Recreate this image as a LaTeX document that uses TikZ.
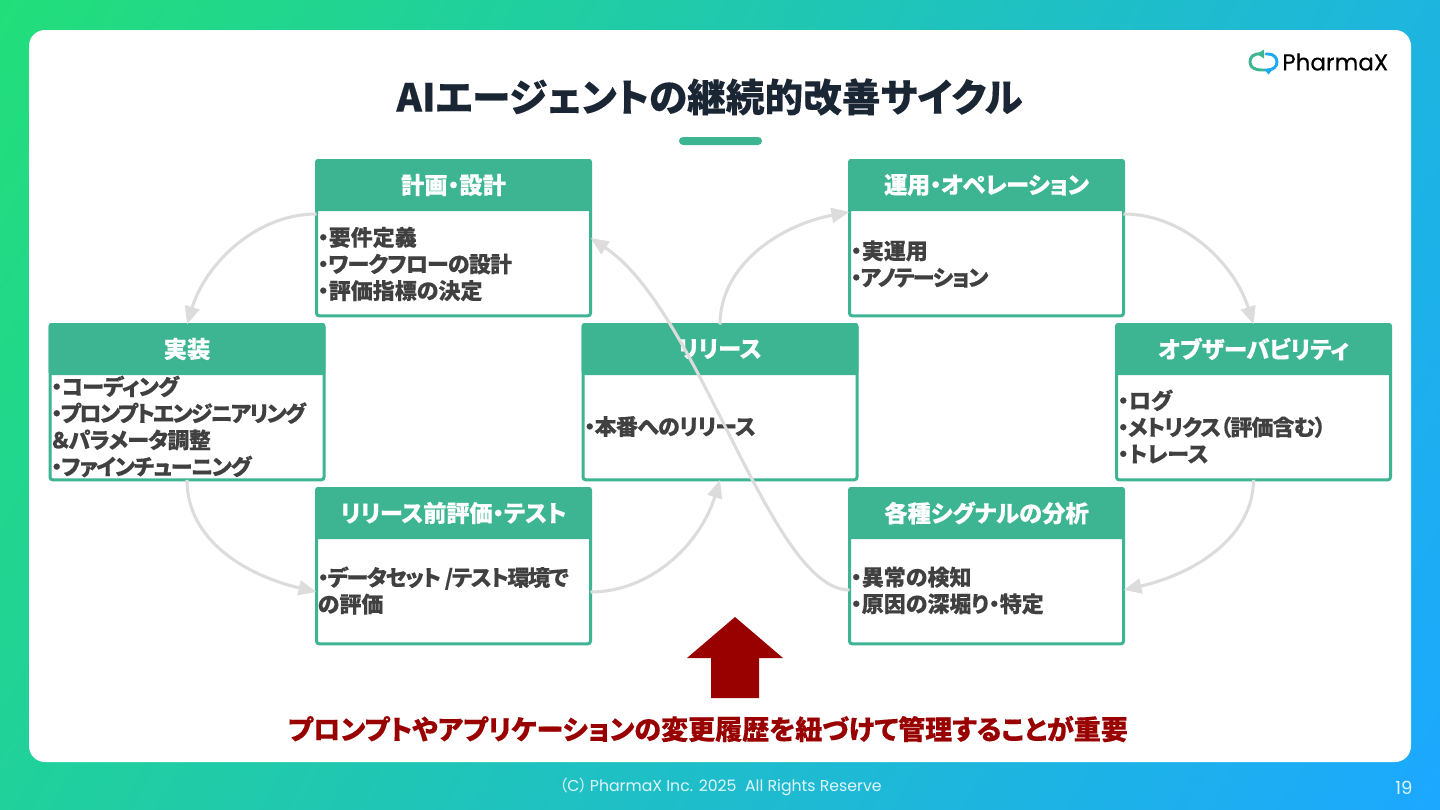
\documentclass[tikz,border=0pt]{standalone}
\usepackage{fontspec}
\setmainfont{Noto Sans CJK JP}[RawFeature=+palt,BoldFeatures={FakeBold=0.25}]
\newfontfamily\popp{Poppins}[FakeBold=0.35]
\newfontfamily\poppr{Poppins}
\usetikzlibrary{arrows.meta,calc}
\definecolor{teal1}{HTML}{3DB592}
\definecolor{grayln}{HTML}{DCDCDC}
\definecolor{ink}{HTML}{404040}
\definecolor{darkred}{HTML}{990000}
\definecolor{bgA}{HTML}{22DE7A}
\definecolor{bgB}{HTML}{1CA8FF}
\tikzset{
  cardbox/.style={draw=teal1,line width=2.25pt,fill=white,rounded corners=2pt,minimum width=205.5pt,minimum height=116.5pt,inner sep=0pt,outer sep=0pt},
  cardhead/.style={fill=teal1,rounded corners=2pt,minimum width=207.5pt,minimum height=39pt,inner sep=0pt,outer sep=0pt,text=white,font=\fontsize{17.5}{20}\selectfont\bfseries},
  cardtext/.style={anchor=west,align=left,inner sep=0pt,text=ink,font=\fontsize{16.5}{20}\selectfont\bfseries},
  flow/.style={draw=grayln,line width=2.3pt,-{Triangle[length=13.5pt,width=11pt,fill=grayln]}},
}
\newcommand{\sq}[2]{{\addfontfeature{LetterSpace=#1}#2}}
\newcommand{\card}[6]{% name, center x, top y, title, body, text dy
  \node[cardbox,anchor=north] (#1) at (#2,#3+1.5) {};
  \node[cardhead,anchor=north] (#1h) at (#2,#3) {#4};
  \coordinate (#1in) at (#2-136,#3+#6);
  \node[cardtext] (#1t) at (#1in) {#5};
}
\begin{document}
\begin{tikzpicture}[x=0.75pt,y=-0.75pt]
\useasboundingbox (0,0) rectangle (1440,810);
\begin{scope}
  \clip (0,0) rectangle (1440,810);
  \shade[bottom color=bgA,top color=bgB,shading angle=-120] (720-826,405-826) rectangle (720+826,405+826);
\end{scope}
\fill[white,rounded corners=12pt] (29,30) rectangle (1411,762);

% logo
\draw[teal1,line width=2.2pt,line cap=round] (1262,54) .. controls (1252,53) and (1250,58) .. (1250,62) .. controls (1250,67) and (1254,70) .. (1262,70) -- (1266,70);
\fill[teal1] (1257,54) -- (1264,49.5) -- (1264,58.5) -- cycle;
\draw[bgB!90!teal1,line width=2.2pt,line cap=round] (1266,54) -- (1268,54) .. controls (1274,54) and (1277,58) .. (1277,62) .. controls (1277,67) and (1273,70) .. (1267,70);
\fill[bgB!90!teal1] (1264,69) -- (1273,69) -- (1268.5,74.5) -- cycle;
\node[anchor=west,inner sep=0pt,font=\popp\fontsize{17.3}{20}\selectfont,text=black] (logo) at (1282,62) {PharmaX};

\node[inner sep=0pt,text={rgb,255:red,27;green,38;blue,52},font=\fontsize{29}{32}\selectfont\bfseries] (title) at (709.5,97) {AIエージェントの継続的改善サイクル};
\fill[teal1,rounded corners=3pt] (679,137) rectangle (762,145);

\card{plan}{453.5}{159}{計画・設計}{・要件定義\\\sq{-3.5}{・ワークフローの設計}\\・評価指標の決定}{105}
\card{ops}{986.5}{159}{\sq{-2}{運用・オペレーション}}{・実運用\\\sq{-6}{・アノテーション}}{105}
\card{impl}{187}{323}{実装}{\sq{-3}{・コーディング}\\\sq{-7.7}{・プロンプトエンジニアリング}\\\sq{-3}{＆パラメータ調整}\\\sq{-5}{・ファインチューニング}}{103.5}
\card{rele}{720}{323}{リリース}{\sq{-3}{・本番へのリリース}}{103.5}
\card{obs}{1253.5}{323}{\sq{-1}{オブザーバビリティ}}{・ログ\\\sq{-4}{・メトリクス（評価含む）}\\・トレース}{103.5}
\card{test}{453.5}{487}{\sq{-1}{リリース前評価・テスト}}{\sq{-6}{・データセット /テスト環境で}\\の評価}{103.5}
\card{sig}{986.5}{487}{各種シグナルの分析}{・異常の検知\\・原因の深堀り・特定}{103.5}

\draw[flow] (plan.west |- 0,214) .. controls (255,214) and (205,265) .. (impl.north);
\draw[flow] (impl.south) .. controls (187,540) and (245,575) .. (test.west |- 0,592);
\draw[flow] (test.east |- 0,592) .. controls (650,592) and (700,545) .. (rele.south);
\draw[flow] (rele.north) .. controls (720,265) and (780,225) .. (ops.north west |- 0,212);
\draw[flow] (ops.north east |- 0,214) .. controls (1185,214) and (1235,265) .. (obs.north);
\draw[flow] (obs.south) .. controls (1253,540) and (1190,575) .. (sig.east |- 0,590);
\draw[flow] (sig.west |- 0,590) .. controls (770,590) and (700,310) .. (plan.north east |- 0,238);

% big arrow
\fill[darkred] (735,617) -- (783,658) -- (759,658) -- (759,698) -- (711,698) -- (711,658) -- (687,658) -- cycle;
\node[inner sep=0pt,text=darkred,font=\fontsize{20.3}{24}\selectfont\bfseries] (note) at (708,729) {プロンプトやアプリケーションの変更履歴を紐づけて管理することが重要};

\node[inner sep=0pt,text=white!88!cyan,font=\poppr\fontsize{11.8}{14}\selectfont] (foot) at (720.5,787) {{\normalfont\fontsize{11.8}{14}\selectfont （}C{\normalfont\fontsize{11.8}{14}\selectfont ）}\,PharmaX Inc. 2025\ \ All Rights Reserve};
\node[inner sep=0pt,text=white!88!cyan,font=\poppr\fontsize{13.5}{14}\selectfont] (pg) at (1404,788) {19};
\end{tikzpicture}
\end{document}
